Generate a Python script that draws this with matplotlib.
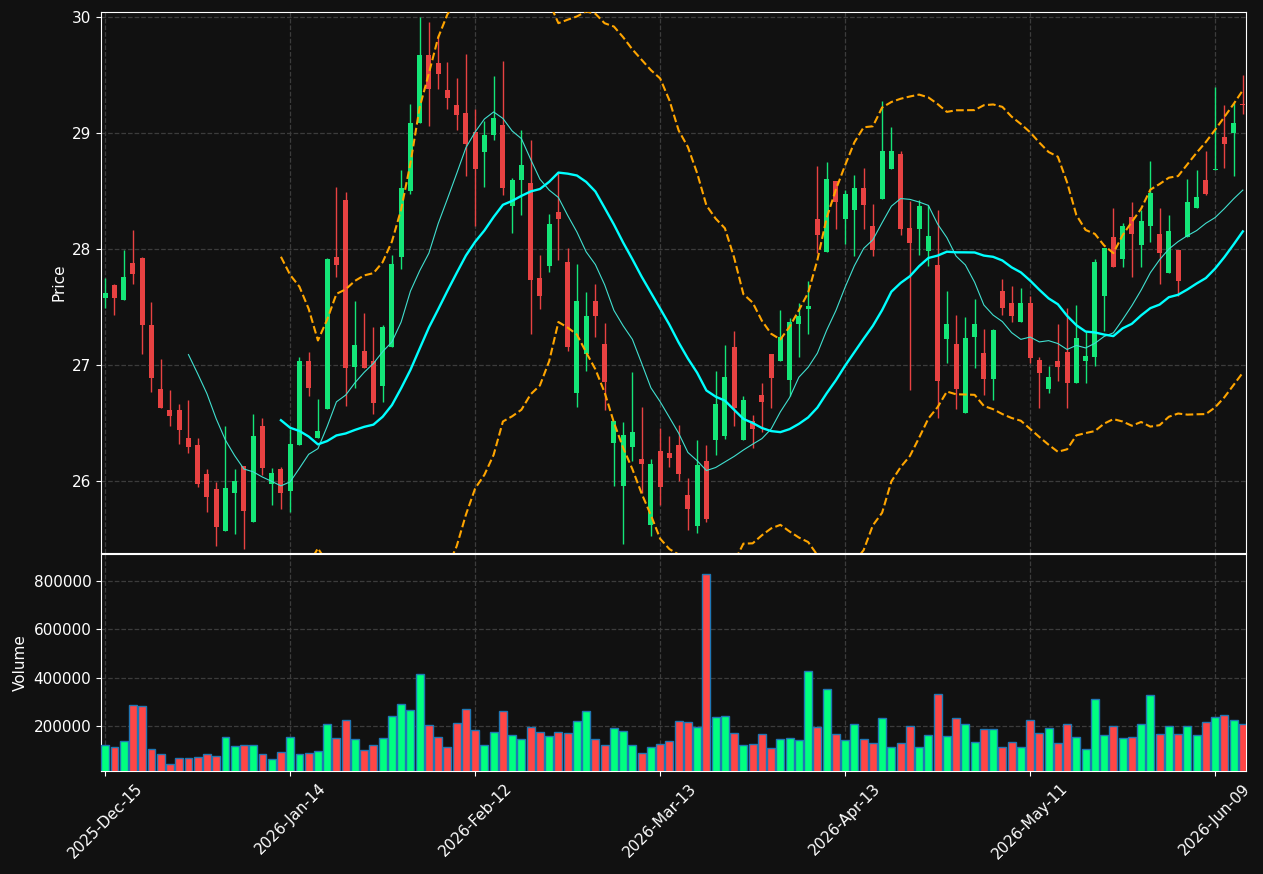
import numpy as np
import pandas as pd
import matplotlib
matplotlib.use('Agg')
import matplotlib.pyplot as plt
from matplotlib.ticker import FuncFormatter

# daily OHLC + volume (124 trading days)
opens = [27.58, 27.69, 27.56, 27.88, 27.92, 27.34, 26.79, 26.61, 26.61, 26.37,
         26.31, 26.06, 25.93, 25.57, 25.90, 26.13, 25.65, 26.47, 25.97, 26.10,
         25.91, 26.31, 27.03, 26.37, 26.62, 27.93, 28.42, 26.98, 27.12, 27.03,
         26.82, 27.15, 27.93, 28.50, 29.08, 29.67, 29.60, 29.37, 29.24, 29.17,
         29.01, 28.83, 28.98, 29.07, 28.37, 28.59, 28.57, 27.75, 27.85, 28.32,
         27.89, 26.76, 27.09, 27.55, 27.18, 26.33, 25.96, 26.29, 26.19, 25.62,
         26.26, 26.24, 26.31, 25.88, 25.61, 26.17, 26.35, 26.39, 27.15, 26.35,
         26.52, 26.74, 27.09, 27.03, 26.87, 27.35, 27.48, 28.26, 27.97, 28.58,
         28.26, 28.33, 28.52, 28.20, 28.43, 28.69, 28.82, 28.18, 28.17, 27.98,
         27.86, 27.22, 27.18, 26.59, 27.24, 27.10, 26.88, 27.64, 27.53, 27.37,
         27.53, 27.04, 26.79, 27.03, 27.11, 26.84, 27.03, 27.07, 27.59, 28.10,
         27.91, 28.27, 28.03, 28.20, 28.13, 27.79, 27.99, 28.10, 28.35, 28.59,
         28.68, 28.96, 29.00, 29.25]
highs = [27.75, 27.70, 27.99, 28.16, 27.93, 27.54, 27.05, 26.78, 26.66, 26.70,
         26.37, 26.10, 25.99, 26.47, 26.10, 26.13, 26.58, 26.54, 26.11, 26.12,
         26.45, 27.07, 27.11, 26.71, 27.92, 28.53, 28.49, 27.55, 27.45, 27.33,
         27.34, 27.95, 28.68, 29.25, 30.00, 29.95, 29.84, 29.61, 29.47, 29.68,
         29.20, 29.10, 29.49, 29.62, 28.61, 29.02, 28.94, 27.95, 28.30, 28.65,
         28.01, 27.87, 27.63, 27.70, 27.36, 26.52, 26.51, 26.94, 26.64, 26.19,
         26.46, 26.39, 26.48, 26.03, 26.35, 26.31, 26.95, 27.17, 27.29, 26.73,
         26.57, 26.84, 27.09, 27.47, 27.40, 27.53, 27.72, 28.71, 28.75, 28.58,
         28.51, 28.64, 28.70, 28.39, 29.27, 29.05, 28.84, 28.41, 28.42, 28.38,
         28.33, 27.64, 27.43, 27.41, 27.57, 27.31, 27.31, 27.74, 27.68, 27.66,
         27.59, 27.07, 26.99, 27.35, 27.49, 27.52, 27.29, 27.91, 28.01, 28.35,
         28.22, 28.40, 28.33, 28.76, 28.35, 28.29, 27.99, 28.60, 28.68, 28.84,
         29.39, 29.24, 29.26, 29.50]
lows = [27.49, 27.43, 27.56, 27.70, 27.09, 26.77, 26.63, 26.47, 26.32, 26.24,
        25.95, 25.73, 25.44, 25.57, 25.54, 25.41, 25.65, 26.05, 25.79, 25.76,
        25.73, 26.31, 26.73, 26.37, 26.62, 27.76, 26.65, 26.80, 26.97, 26.58,
        26.68, 27.15, 27.83, 28.47, 29.08, 29.06, 29.38, 29.20, 29.02, 28.63,
        28.20, 28.53, 28.94, 28.46, 28.14, 28.29, 27.27, 27.48, 27.80, 27.90,
        27.12, 26.64, 26.95, 27.24, 26.61, 25.96, 25.46, 26.17, 25.90, 25.53,
        25.79, 26.12, 26.00, 25.58, 25.55, 25.65, 26.22, 26.36, 26.47, 26.35,
        26.28, 26.42, 26.63, 27.03, 26.73, 27.07, 27.27, 27.96, 27.97, 28.17,
        28.04, 27.94, 28.17, 27.94, 28.43, 28.69, 28.12, 26.78, 27.95, 27.85,
        26.54, 27.02, 26.62, 26.59, 26.97, 26.74, 26.70, 27.43, 27.37, 27.37,
        27.02, 26.63, 26.76, 26.86, 26.63, 26.84, 26.84, 26.99, 27.29, 27.84,
        27.84, 27.76, 27.84, 28.06, 27.70, 27.79, 27.59, 28.10, 28.35, 28.46,
        28.68, 28.70, 28.63, 29.16]
closes = [27.62, 27.58, 27.76, 27.78, 27.34, 26.89, 26.63, 26.56, 26.44, 26.29,
          25.97, 25.86, 25.60, 25.94, 26.00, 25.74, 26.39, 26.11, 26.07, 25.90,
          26.32, 27.03, 26.80, 26.43, 27.91, 27.86, 26.97, 27.17, 26.97, 26.67,
          27.33, 27.87, 28.52, 29.08, 29.67, 29.38, 29.51, 29.30, 29.15, 28.90,
          28.69, 28.98, 29.13, 28.52, 28.59, 28.72, 27.73, 27.59, 28.21, 28.26,
          27.15, 27.55, 27.42, 27.42, 26.85, 26.52, 26.40, 26.42, 26.15, 26.15,
          25.95, 26.20, 26.06, 25.76, 26.14, 25.67, 26.66, 26.90, 26.63, 26.70,
          26.45, 26.68, 26.89, 27.24, 27.37, 27.42, 27.51, 28.12, 28.60, 28.40,
          28.47, 28.52, 28.38, 27.99, 28.84, 28.84, 28.17, 28.05, 28.37, 28.11,
          26.86, 27.35, 26.79, 27.23, 27.35, 26.88, 27.30, 27.49, 27.42, 27.53,
          27.06, 26.93, 26.90, 26.98, 26.84, 27.23, 27.08, 27.89, 28.01, 27.84,
          28.20, 28.13, 28.24, 28.48, 27.96, 28.15, 27.72, 28.40, 28.45, 28.47,
          28.69, 28.90, 29.08, 29.24]
volumes = [119800, 111500, 136400, 285700, 281600, 103200, 82500, 41000, 65900, 65900,
           70000, 82500, 74200, 153000, 115700, 119800, 119800, 82500, 61800, 90800,
           153000, 82500, 86600, 95000, 206900, 148800, 223500, 144700, 99100, 119800,
           148800, 240100, 289900, 265000, 414300, 202800, 153000, 111500, 211100, 269100,
           182000, 119800, 173700, 260800, 161300, 144700, 194500, 173700, 157100, 173700,
           169600, 219400, 260800, 144700, 119800, 190300, 177900, 119800, 86600, 111500,
           124000, 136400, 219400, 215200, 194500, 829000, 235900, 240100, 169600, 119800,
           124000, 165400, 107400, 144700, 148800, 140600, 426700, 194500, 352100, 165400,
           140600, 206900, 144700, 128100, 231800, 111500, 128100, 198600, 111500, 161300,
           331300, 157100, 231800, 206900, 132300, 186200, 186200, 111500, 132300, 111500,
           223500, 169600, 190300, 128100, 206900, 153000, 103200, 310600, 161300, 198600,
           148800, 153000, 206900, 327200, 165400, 198600, 165400, 198600, 161300, 215200,
           235900, 244200, 223500, 206900]

holidays = ['2025-12-25', '2026-01-01', '2026-01-19', '2026-02-16', '2026-04-03', '2026-05-25']
dates = pd.bdate_range('2025-12-15', periods=len(closes), freq='C', holidays=holidays)

df = pd.DataFrame({'Open': opens, 'High': highs, 'Low': lows,
                   'Close': closes, 'Volume': volumes}, index=dates)

# moving averages and bollinger bands (20, 2 std)
mav10 = df['Close'].rolling(10).mean()
mav20 = df['Close'].rolling(20).mean()
std20 = df['Close'].rolling(20).std(ddof=0)
upper = mav20 + 2 * std20
lower = mav20 - 2 * std20

bg = '#111111'
up_c, down_c = '#14e678', '#e84242'
vup_c, vdown_c = '#00ff80', '#ff4646'
grid_c = '#3c3c3c'

x = np.arange(len(df))
is_up = df['Close'].values >= df['Open'].values

fig = plt.figure(figsize=(12.63, 8.74), dpi=100, facecolor=bg)
ax = fig.add_axes([0.0800, 0.3673, 0.9066, 0.6190])
axv = fig.add_axes([0.0800, 0.1178, 0.9066, 0.2483], sharex=ax)

for a in (ax, axv):
    a.set_facecolor(bg)
    for s in a.spines.values():
        s.set_color('white')
    a.grid(True, linestyle='--', color=grid_c, linewidth=0.9)
    a.set_axisbelow(True)
    a.tick_params(colors='white', labelsize=11)

# candles
ccols = np.where(is_up, up_c, down_c)
ax.vlines(x, df['Low'], df['High'], colors=ccols, linewidth=1, zorder=2)
body_lo = np.minimum(df['Open'], df['Close'])
body_h = np.maximum(np.abs(df['Close'] - df['Open']), 0.008)
ax.bar(x, body_h, bottom=body_lo, width=0.55, color=ccols, linewidth=0, zorder=3)

ax.plot(x, mav10, color='#40e0d0', linewidth=0.8, zorder=4)
ax.plot(x, mav20, color='#00ffff', linewidth=1.7, zorder=4)
ax.plot(x, upper, color='#ffa500', linewidth=1.5, linestyle='--', zorder=4)
ax.plot(x, lower, color='#ffa500', linewidth=1.5, linestyle='--', zorder=4)

ax.set_ylim(25.38, 30.04)
ax.set_yticks([26, 27, 28, 29, 30])
ax.set_ylabel('Price', color='white', fontsize=11)
ax.tick_params(axis='x', labelbottom=False, length=0)

# volume
vcols = np.where(is_up, vup_c, vdown_c)
axv.bar(x, df['Volume'], width=0.85, color=vcols, edgecolor='#1f77b4', linewidth=1, zorder=3)
axv.set_ylim(0.3 * min(volumes), 1.1 * max(volumes))
axv.set_yticks([200000, 400000, 600000, 800000])
axv.set_ylabel('Volume', color='white', fontsize=11)

axv.set_xlim(-0.45, 123.35)
axv.set_xticks(range(0, len(df), 20))
axv.xaxis.set_major_formatter(FuncFormatter(
    lambda v, pos: dates[int(round(v))].strftime('%Y-%b-%d') if 0 <= round(v) < len(dates) else ''))
plt.setp(axv.get_xticklabels(), rotation=45, ha='center')

fig.savefig('out.png', dpi=100, facecolor=bg)
